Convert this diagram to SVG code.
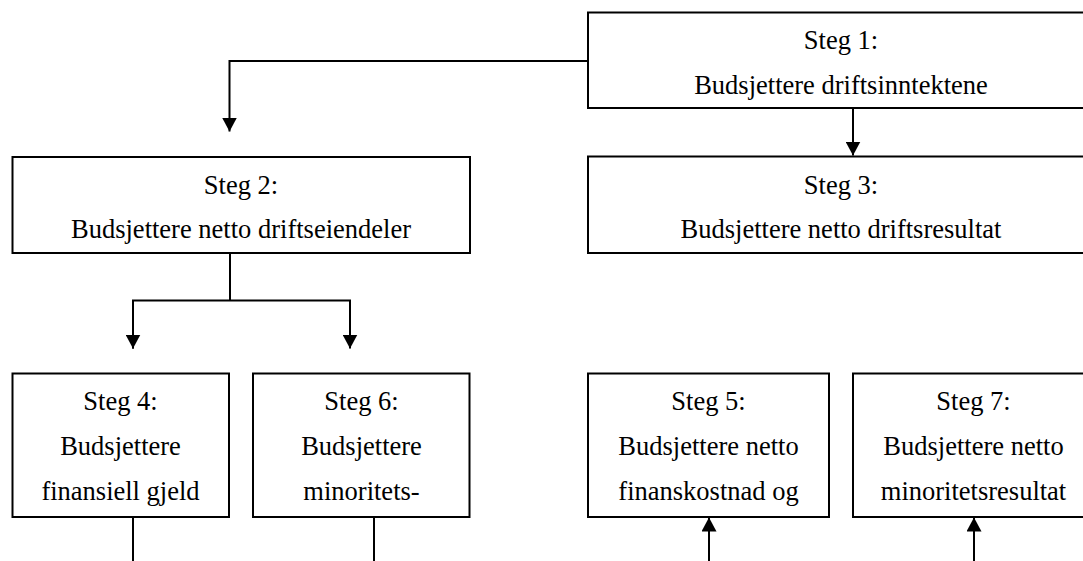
<svg xmlns="http://www.w3.org/2000/svg" width="1083" height="561" viewBox="0 0 1083 561">
  <style>
    .box { fill: #fff; stroke: #000; stroke-width: 2; }
    .lbl { font-family: "Liberation Serif", "Times New Roman", serif; font-size: 26.5px; fill: #000; text-anchor: middle; }
    .wire { fill: none; stroke: #000; stroke-width: 2; }
  </style>
  <defs>
    <marker id="head" markerWidth="14" markerHeight="15" refX="14" refY="7.5" orient="auto" markerUnits="userSpaceOnUse">
      <path d="M0,0 L14,7.5 L0,15 Z" fill="#000"/>
    </marker>
  </defs>

  <rect width="1083" height="561" fill="#fff"/>

  <g id="connectors">
    <path class="wire" d="M588,61 H229.5 V131.5" marker-end="url(#head)"/>
    <path class="wire" d="M853,108 V155.5" marker-end="url(#head)"/>
    <path class="wire" d="M230,253 V300.5"/>
    <path class="wire" d="M133,348.5 V300.5 H350 V348.5" marker-end="url(#head)"/>
    <path class="wire" d="M133,300.5 V348.5" marker-end="url(#head)"/>
    <path class="wire" d="M133,517 V561"/>
    <path class="wire" d="M374,517 V561"/>
    <path class="wire" d="M709,561 V517.5" marker-end="url(#head)"/>
    <path class="wire" d="M974,561 V517.5" marker-end="url(#head)"/>
  </g>

  <g id="steg1">
    <rect class="box" x="588" y="12.5" width="506" height="95.5"/>
    <text class="lbl" x="841" y="48.5">Steg 1:</text>
    <text class="lbl" x="841" y="93.5">Budsjettere driftsinntektene</text>
  </g>

  <g id="steg2">
    <rect class="box" x="12.5" y="157" width="457.5" height="96"/>
    <text class="lbl" x="241" y="193.5">Steg 2:</text>
    <text class="lbl" x="241" y="237.5">Budsjettere netto driftseiendeler</text>
  </g>

  <g id="steg3">
    <rect class="box" x="588" y="156.5" width="506" height="96.5"/>
    <text class="lbl" x="841" y="193.5">Steg 3:</text>
    <text class="lbl" x="841" y="237.5">Budsjettere netto driftsresultat</text>
  </g>

  <g id="steg4">
    <rect class="box" x="12.5" y="373.5" width="216.5" height="143.5"/>
    <text class="lbl" x="120.5" y="409.5">Steg 4:</text>
    <text class="lbl" x="120.5" y="454.5">Budsjettere</text>
    <text class="lbl" x="120.5" y="499.5">finansiell gjeld</text>
  </g>

  <g id="steg6">
    <rect class="box" x="253" y="373.5" width="216.5" height="143.5"/>
    <text class="lbl" x="361.5" y="409.5">Steg 6:</text>
    <text class="lbl" x="361.5" y="454.5">Budsjettere</text>
    <text class="lbl" x="361.5" y="499.5">minoritets-</text>
  </g>

  <g id="steg5">
    <rect class="box" x="588" y="373.5" width="241" height="143.5"/>
    <text class="lbl" x="708.5" y="409.5">Steg 5:</text>
    <text class="lbl" x="708.5" y="454.5">Budsjettere netto</text>
    <text class="lbl" x="708.5" y="499.5">finanskostnad og</text>
  </g>

  <g id="steg7">
    <rect class="box" x="853" y="373.5" width="241" height="143.5"/>
    <text class="lbl" x="973.5" y="409.5">Steg 7:</text>
    <text class="lbl" x="973.5" y="454.5">Budsjettere netto</text>
    <text class="lbl" x="973.5" y="499.5">minoritetsresultat</text>
  </g>
</svg>
